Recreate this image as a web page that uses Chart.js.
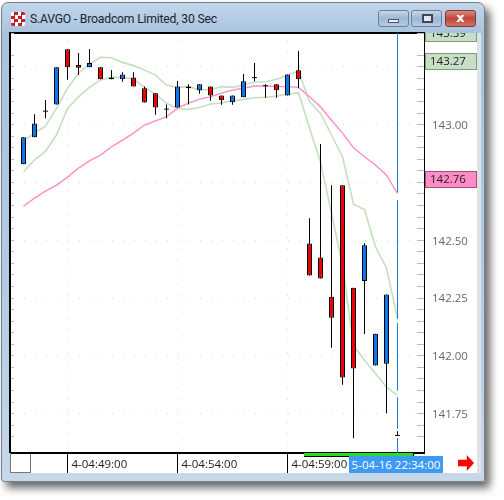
<!DOCTYPE html>
<html>
<head>
<meta charset="utf-8">
<script src="https://cdn.jsdelivr.net/npm/chart.js@4"></script>
<style>
html, body { margin: 0; padding: 0; background: #fff; width: 504px; height: 500px; overflow: hidden; }
div { box-sizing: border-box; position: absolute; }
#win { left: 1px; top: 2px; width: 484px; height: 480px; border: 1px solid #74808c; border-radius: 7px 7px 3px 3px;
  background: linear-gradient(#c2d6ea, #a9c3de 30px, #b4cbe2 60%, #c6d8ea); box-shadow: 5px 6px 9px rgba(0,0,0,.6); }
#content { left: 10px; top: 33px; width: 470px; height: 440px; background: #fff; }
#sidebar { left: 477px; top: 33px; width: 4px; height: 440px; background: #dfe3e6; }
#frame { left: 9px; top: 32px; width: 416px; height: 421px; border: 2px solid #000; border-right-width: 1px; border-bottom-width: 1px; }
#corner { left: 10px; top: 453px; width: 21px; height: 20px; border: 1px solid #777; background: #fff; }
#title { left: 30px; top: 12px; font: 12.2px Roboto, sans-serif; letter-spacing: -0.2px; color: #1a2430; white-space: nowrap; }
#icon { left: 11px; top: 12px; width: 14px; height: 14px; background: #fff; border-radius: 2px;
  background-image: repeating-conic-gradient(#c8202a 0 25%, #fff 0 50%); background-size: 7px 7px; }
.btn { top: 10px; width: 31px; height: 17px; border: 1px solid #6d7f91; border-radius: 3px; background: linear-gradient(#c6d7e9, #9db8d4 50%, #b4cbe2); }
#close { background: linear-gradient(#d98a80, #c0463a 50%, #d0736a); border-color: #7a4038; color: #fff; font: bold 13px/14px "DejaVu Sans", sans-serif; text-align: center; }
#timebox { left: 349px; top: 456px; width: 94px; height: 17px; background: #3d9bf5; color: #fff; font: 11.5px/17px "Open Sans", sans-serif; text-align: center; white-space: nowrap; }
#greenbar { left: 304px; top: 453px; width: 110px; height: 4px; background: #22e022; border-bottom: 1px solid #000; border-right: 1px solid #000; }
#arrow { left: 458px; top: 455px; width: 16px; height: 16px; background: #f00; clip-path: polygon(0 30%, 55% 30%, 55% 0, 100% 50%, 55% 100%, 55% 70%, 0 70%); }
canvas { position: absolute; left: 0; top: 0; }
</style>
</head>
<body>
<div id="win"></div>
<div id="content"></div>
<div id="sidebar"></div>
<div id="frame"></div>
<div id="corner"></div>
<div id="icon"></div>
<div id="title">S.AVGO - Broadcom Limited, 30 Sec</div>
<div class="btn" style="left:378px"><div style="left:9px;top:8px;width:11px;height:4px;background:#e8eef4;border:1px solid #556"></div></div>
<div class="btn" style="left:411px"><div style="left:10px;top:3px;width:11px;height:9px;border:2px solid #445;background:#dfe8f0"></div></div>
<div class="btn" id="close" style="left:445px">x</div>
<canvas id="stock" width="504" height="500"></canvas>
<div id="greenbar"></div>
<div id="timebox">5-04-16 22:34:00</div>
<div id="arrow"></div>
<script>
const opens = [142.828,142.945,143.058,143.087,143.326,143.258,143.248,143.248,143.204,143.196,143.204,143.157,143.135,143.067,143.074,143.165,143.148,143.165,143.126,143.097,143.118,143.203,143.168,143.174,143.126,143.235,142.486,142.425,142.256,142.738,142.295,142.324,141.958,141.966,141.656];
const highs = [142.945,143.045,143.106,143.248,143.326,143.31,143.327,143.248,143.236,143.226,143.226,143.165,143.135,143.087,143.188,143.174,143.174,143.165,143.126,143.126,143.219,143.266,143.174,143.174,143.217,143.318,142.595,142.916,142.738,142.738,142.295,142.487,142.096,142.265,141.674];
const lows = [142.828,142.945,143.027,143.087,143.194,143.214,143.248,143.196,143.196,143.185,143.165,143.096,143.042,143.027,143.074,143.087,143.133,143.103,143.086,143.086,143.118,143.187,143.116,143.116,143.126,143.157,142.347,142.334,142.035,141.875,141.644,142.094,141.958,141.752,141.656];
const closes = [142.945,143.005,143.058,143.248,143.248,143.246,143.266,143.196,143.196,143.217,143.165,143.096,143.074,143.067,143.165,143.157,143.174,143.126,143.105,143.126,143.187,143.203,143.168,143.148,143.217,143.196,142.347,142.334,142.165,141.906,141.945,142.478,142.096,142.265,141.656];
const upperBand = [142.930,142.962,142.994,143.070,143.157,143.222,143.262,143.291,143.289,143.269,143.255,143.236,143.214,143.171,143.161,143.164,143.149,143.152,143.164,143.161,143.171,143.184,143.185,143.196,143.213,143.232,143.099,143.048,142.955,142.861,142.656,142.633,142.471,142.380,142.161];
const lowerBand = [142.796,142.846,142.885,142.955,143.070,143.120,143.161,143.193,143.204,143.204,143.197,143.161,143.132,143.092,143.070,143.066,143.074,143.089,143.094,143.103,143.109,143.116,143.118,143.123,143.132,143.138,142.985,142.838,142.617,142.392,142.045,141.981,141.924,141.865,141.829];
const slowAvg = [142.647,142.682,142.712,142.738,142.773,142.812,142.843,142.868,142.904,142.933,142.963,142.998,143.016,143.034,143.071,143.093,143.110,143.120,143.136,143.149,143.157,143.167,143.167,143.164,143.164,143.161,143.120,143.077,143.019,142.963,142.900,142.861,142.825,142.781,142.702];
const cursorPrices = [143.396,142.708,null,142.673,142.162,null,142.141,141.851,null,141.820,141.686,null,141.643,141.58];
const cursorIndex = 34;
const timeTicks = [4, 14, 24];
const timeLabels = ['4-04:49:00', '4-04:54:00', '4-04:59:00'];
const priceBoxes = [143.39, 143.27, 142.76];
const boxFills = ['#c8dfc5', '#c8dfc5', '#ff8cc6'];
const boxEdges = ['#7f9a7f', '#7f9a7f', '#a0527c'];

const UP = '#0a78f0', DOWN = '#f00000';
const labelFont = { family: 'Open Sans', size: 11.5 };

function toXY(arr) { return arr.map((v, i) => ({ x: i, y: v })); }
function isMajor(v) { return Math.abs(v * 4 - Math.round(v * 4)) < 0.001; }

// value boxes on the price axis
const boxPlugin = {
  id: 'boxes',
  afterDraw(c) {
    const ctx = c.ctx, s = c.scales.y;
    ctx.save();
    ctx.beginPath();
    ctx.rect(425, 33, 52, 440);
    ctx.clip();
    ctx.font = '11.5px "Open Sans"';
    ctx.textBaseline = 'middle';
    priceBoxes.forEach((v, i) => {
      const y = Math.round(s.getPixelForValue(v));
      ctx.fillStyle = boxFills[i];
      ctx.strokeStyle = boxEdges[i];
      ctx.fillRect(425.5, y - 8.5, 51, 16);
      ctx.strokeRect(425.5, y - 8.5, 51, 16);
      ctx.fillStyle = '#222';
      ctx.fillText(v.toFixed(2), 430, y);
    });
    ctx.restore();
  }
};

const lineDefaults = { type: 'line', pointRadius: 0, borderWidth: 1.6, tension: 0, spanGaps: false };

new Chart(document.getElementById('stock').getContext('2d'), {
  type: 'bar',
  plugins: [boxPlugin],
  data: {
    datasets: [
      { ...lineDefaults, data: toXY(upperBand), borderColor: '#c5dfc0', order: 5 },
      { ...lineDefaults, data: toXY(lowerBand), borderColor: '#c5dfc0', order: 5 },
      { ...lineDefaults, data: toXY(slowAvg), borderColor: '#ff8cc6', borderWidth: 1.4, order: 4 },
      { ...lineDefaults, data: cursorPrices.map(v => ({ x: cursorIndex, y: v })), borderColor: '#1a80e0', borderWidth: 1, order: 3 },
      {
        data: opens.map((o, i) => ({ x: i, y: [lows[i], highs[i]] })),
        backgroundColor: '#000', barThickness: 1, grouped: false, inflateAmount: 0, order: 2
      },
      {
        data: opens.map((o, i) => ({ x: i, y: o === closes[i] ? [o - 0.002, o + 0.002] : [o, closes[i]] })),
        backgroundColor: opens.map((o, i) => o === closes[i] ? '#000' : closes[i] > o ? UP : DOWN),
        borderColor: '#000', borderWidth: opens.map((o, i) => o === closes[i] ? 0 : 1),
        borderSkipped: false, inflateAmount: 0,
        barThickness: 5, grouped: false, order: 1
      }
    ]
  },
  options: {
    responsive: false,
    animation: false,
    layout: { padding: { left: 11, top: 33, right: 24, bottom: 27 } },
    plugins: { legend: { display: false }, tooltip: { enabled: false } },
    scales: {
      x: {
        type: 'linear', min: -1.1364, max: 36.409, offset: false,
        afterBuildTicks: s => { s.ticks = timeTicks.map(v => ({ value: v })); },
        afterFit: s => { s.height = 20; },
        ticks: {
          align: 'start', labelOffset: 4, padding: -15, maxRotation: 0, autoSkip: false,
          color: '#222', font: labelFont,
          callback: v => timeLabels[timeTicks.indexOf(v)]
        },
        grid: { offset: false, color: '#d8d8d8', tickColor: '#000', tickLength: 20 },
        border: { color: '#000', width: 1, dash: [1, 10.55], dashOffset: 4 }
      },
      y: {
        position: 'right', min: 141.58, max: 143.396,
        afterFit: s => { s.width = 56; },
        afterBuildTicks: s => { s.ticks = s.ticks.filter(t => t.value > 141.6); },
        ticks: {
          stepSize: 0.05, autoSkip: false, padding: 15, labelOffset: 1, color: '#666', font: labelFont,
          callback: v => isMajor(v) && v < 143.2 ? v.toFixed(2) : ''
        },
        grid: {
          tickLength: -7, tickColor: '#bbb',
          color: c => isMajor(c.tick.value) ? '#d8d8d8' : 'rgba(0,0,0,0)'
        },
        border: { color: '#000', width: 1, dash: [1, 10], dashOffset: 9 }
      },
      yLeft: {
        position: 'left', min: 141.58, max: 143.396,
        afterFit: s => { s.width = 0; },
        afterBuildTicks: s => { s.ticks = s.ticks.filter(t => t.value > 141.6); },
        ticks: { stepSize: 0.05, autoSkip: false, padding: 0, callback: () => '' },
        grid: { drawOnChartArea: false, tickLength: -3, tickColor: '#bbb' },
        border: { display: false }
      }
    }
  }
});
</script>
</body>
</html>
